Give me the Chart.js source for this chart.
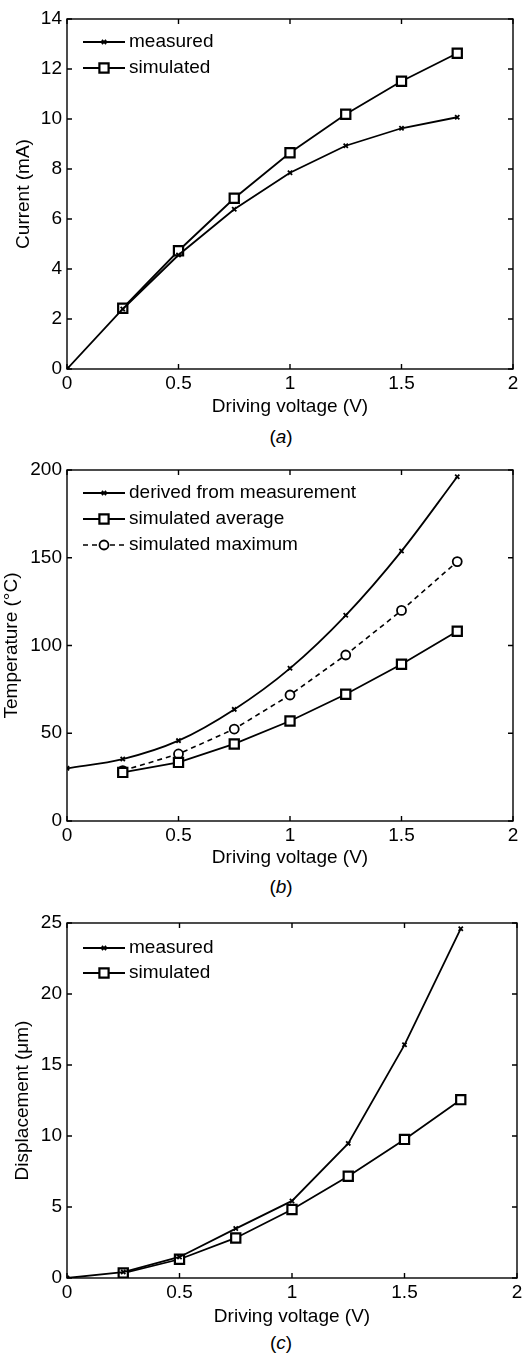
<!DOCTYPE html>
<html>
<head>
<meta charset="utf-8">
<script src="https://cdn.jsdelivr.net/npm/chart.js@4.4.1/dist/chart.umd.min.js"></script>
<style>
body { margin: 0; background: #fff; width: 526px; height: 1353px; position: relative; overflow: hidden; font-family: "Liberation Sans", Arial, sans-serif; }
.box { position: absolute; left: 0; width: 526px; }
.cap { position: absolute; font-size: 19px; color: #000; transform: translate(-50%, -50%); white-space: nowrap; }
</style>
</head>
<body>
<div class="box" style="top:0;height:420px"><canvas id="chartA"></canvas></div>
<div class="cap" style="left:281px;top:437px">(<i>a</i>)</div>
<div class="box" style="top:430px;height:440px"><canvas id="chartB"></canvas></div>
<div class="cap" style="left:281px;top:887px">(<i>b</i>)</div>
<div class="box" style="top:880px;height:450px"><canvas id="chartC"></canvas></div>
<div class="cap" style="left:281px;top:1343px">(<i>c</i>)</div>
<script>
// driving voltage (V)
const voltage = [0, 0.25, 0.5, 0.75, 1.0, 1.25, 1.5, 1.75];

// (a) current, mA
const currentMeasured = [0, 2.4, 4.56, 6.39, 7.85, 8.93, 9.63, 10.07];
const currentSimulated = [null, 2.43, 4.73, 6.83, 8.65, 10.19, 11.51, 12.63];

// (b) temperature, C
const tempDerived = [30, 35.3, 45.8, 63.6, 87, 117.2, 153.8, 196.2];
const tempSimAverage = [null, 27.7, 33.4, 43.9, 57, 72.2, 89.3, 108.1];
const tempSimMaximum = [null, 28.7, 38.2, 52.4, 71.8, 94.6, 120, 147.8];

// (c) displacement, um
const dispMeasured = [0, 0.42, 1.48, 3.48, 5.43, 9.48, 16.42, 24.6];
const dispSimulated = [null, 0.35, 1.32, 2.82, 4.82, 7.17, 9.76, 12.56];

const xTicks = [0, 0.5, 1, 1.5, 2];

Chart.defaults.font.family = "'Liberation Sans', Arial, Helvetica, sans-serif";
Chart.defaults.font.size = 19;
Chart.defaults.color = '#000';

function pts(ys) {
  return voltage.map((v, i) => ({x: v, y: ys[i]})).filter(p => p.y !== null);
}

function cross(label, ys) {
  return {label, data: pts(ys), borderColor: '#000', backgroundColor: '#000', borderWidth: 1.8,
    pointStyle: 'crossRot', pointRadius: 3, pointBorderWidth: 1.8, tension: 0};
}
function square(label, ys) {
  return {label, data: pts(ys), borderColor: '#000', backgroundColor: '#fff', borderWidth: 1.8,
    pointStyle: 'rect', pointRadius: 6.5, pointBorderWidth: 2.2, tension: 0};
}

// box, inward ticks on all four sides and legend (matlab look)
const matlabFrame = {
  id: 'matlabFrame',
  afterDatasetsDraw(chart, args, opts) {
    const {ctx, chartArea: a, scales: {x, y}} = chart;
    ctx.save();
    ctx.strokeStyle = '#000';
    ctx.lineWidth = 1.4;
    ctx.strokeRect(a.left, a.top, a.right - a.left, a.bottom - a.top);
    const t = 5;
    ctx.beginPath();
    x.ticks.forEach(tk => {
      const px = x.getPixelForValue(tk.value);
      ctx.moveTo(px, a.bottom); ctx.lineTo(px, a.bottom - t);
      ctx.moveTo(px, a.top); ctx.lineTo(px, a.top + t);
    });
    y.ticks.forEach(tk => {
      const py = y.getPixelForValue(tk.value);
      ctx.moveTo(a.left, py); ctx.lineTo(a.left + t, py);
      ctx.moveTo(a.right, py); ctx.lineTo(a.right - t, py);
    });
    ctx.stroke();

    ctx.font = "19px 'Liberation Sans', Arial, sans-serif";
    ctx.textBaseline = 'middle';
    chart.data.datasets.forEach((ds, i) => {
      const cy = a.top + opts.first + i * opts.gap;
      const x0 = a.left + 16, x1 = a.left + 58;
      ctx.strokeStyle = '#000';
      ctx.lineWidth = ds.borderWidth;
      ctx.setLineDash(ds.borderDash || []);
      ctx.beginPath(); ctx.moveTo(x0, cy); ctx.lineTo(x1, cy); ctx.stroke();
      ctx.setLineDash([]);
      ctx.fillStyle = ds.backgroundColor;
      ctx.lineWidth = ds.pointBorderWidth;
      Chart.helpers.drawPoint(ctx, {pointStyle: ds.pointStyle, radius: ds.pointRadius, borderWidth: ds.pointBorderWidth, rotation: 0}, (x0 + x1) / 2, cy);
      ctx.fillStyle = '#000';
      ctx.fillText(ds.label, x1 + 4, cy);
    });
    ctx.restore();
  }
};

function makeChart(id, datasets, cfg) {
  return new Chart(document.getElementById(id), {
    type: 'line',
    data: {datasets},
    plugins: [matlabFrame],
    options: {
      responsive: true,
      maintainAspectRatio: false,
      animation: false,
      events: [],
      layout: {padding: {left: 0, right: cfg.right, top: cfg.top, bottom: 0}},
      plugins: {
        legend: {display: false},
        tooltip: {enabled: false},
        matlabFrame: {first: cfg.legFirst, gap: cfg.legGap}
      },
      scales: {
        x: {
          type: 'linear', min: 0, max: 2,
          afterBuildTicks: s => { s.ticks = xTicks.map(v => ({value: v})); },
          ticks: {padding: 3, callback: v => String(v)},
          grid: {display: false, drawTicks: false},
          border: {display: false},
          title: {display: true, text: 'Driving voltage (V)', padding: {top: 0, bottom: cfg.xTitlePad}},
          afterFit: s => { s.height = cfg.xHeight; }
        },
        y: {
          type: 'linear', min: cfg.yMin, max: cfg.yMax,
          ticks: {stepSize: cfg.yStep, padding: 5},
          grid: {display: false, drawTicks: false},
          border: {display: false},
          title: {display: true, text: cfg.yTitle, padding: {top: cfg.yTitlePad, bottom: 0}},
          afterFit: s => { s.width = 67; }
        }
      }
    }
  });
}

makeChart('chartA', [
  cross('measured', currentMeasured),
  square('simulated', currentSimulated)
], {top: 19, right: 13, xHeight: 51, xTitlePad: 2, yMin: 0, yMax: 14, yStep: 2,
    yTitle: 'Current (mA)', yTitlePad: 12, legFirst: 23, legGap: 26});

const maxDs = {label: 'simulated maximum', data: pts(tempSimMaximum), borderColor: '#000', backgroundColor: '#fff',
  borderWidth: 1.6, borderDash: [5, 4], pointStyle: 'circle', pointRadius: 4.5, pointBorderWidth: 1.8, tension: 0};
const derivedDs = cross('derived from measurement', tempDerived);
derivedDs.cubicInterpolationMode = 'monotone';

makeChart('chartB', [
  derivedDs,
  square('simulated average', tempSimAverage),
  maxDs
], {top: 40, right: 13, xHeight: 49, xTitlePad: 1, yMin: 0, yMax: 200, yStep: 50,
    yTitle: 'Temperature (°C)', yTitlePad: 0, legFirst: 23, legGap: 26});

makeChart('chartC', [
  cross('measured', dispMeasured),
  square('simulated', dispSimulated)
], {top: 43, right: 9, xHeight: 52, xTitlePad: 2, yMin: 0, yMax: 25, yStep: 5,
    yTitle: 'Displacement (μm)', yTitlePad: 11, legFirst: 25, legGap: 25});
</script>
</body>
</html>
